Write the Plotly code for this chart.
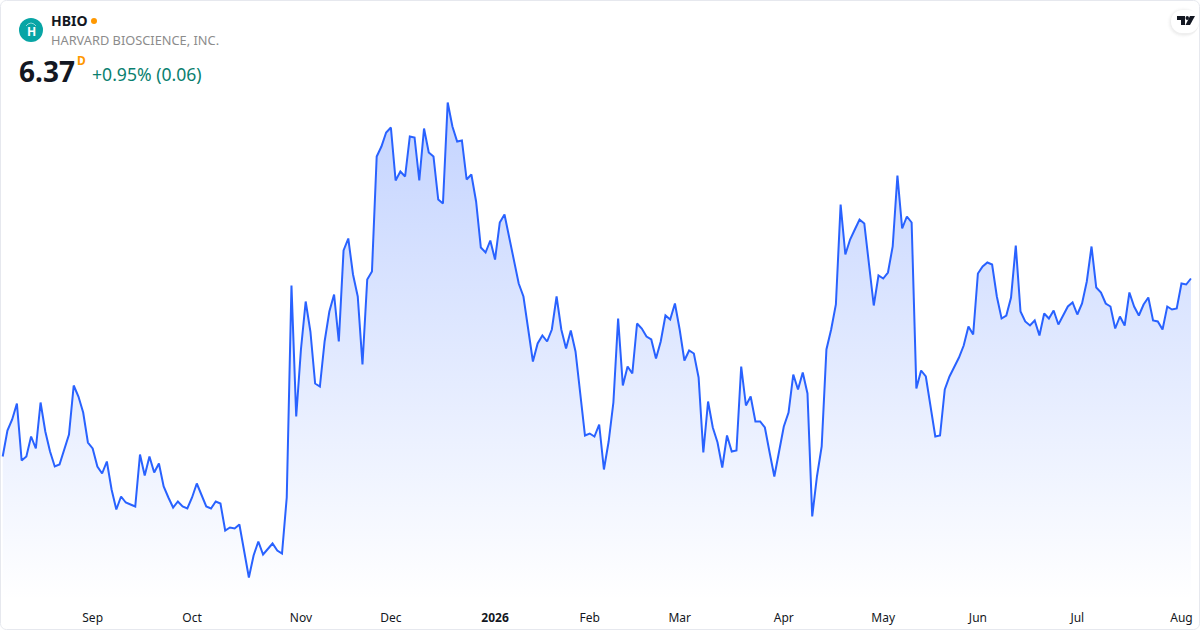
import math
import plotly.graph_objects as go

# Data
closes = [4.59,4.85,4.96,5.12,4.55,4.59,4.79,4.67,5.13,4.84,4.64,4.49,4.51,4.66,4.81,5.30,5.19,5.03,4.73,4.67,
          4.49,4.42,4.54,4.26,4.06,4.19,4.13,4.11,4.09,4.61,4.40,4.59,4.43,4.52,4.29,4.18,4.08,4.14,4.09,4.07,
          4.18,4.32,4.20,4.09,4.07,4.14,4.12,3.85,3.88,3.87,3.91,3.64,3.38,3.60,3.74,3.61,3.67,3.72,3.65,3.62,
          4.18,6.30,4.99,5.66,6.14,5.84,5.32,5.29,5.74,6.04,6.21,5.74,6.65,6.77,6.41,6.19,5.51,6.36,6.44,7.59,
          7.69,7.83,7.88,7.35,7.44,7.39,7.79,7.78,7.35,7.87,7.63,7.59,7.16,7.12,8.13,7.89,7.74,7.75,7.36,7.41,
          7.14,6.68,6.63,6.75,6.56,6.93,7.01,6.78,6.56,6.32,6.19,5.88,5.54,5.72,5.80,5.74,5.86,6.19,5.86,5.67,
          5.85,5.64,5.23,4.80,4.82,4.79,4.91,4.46,4.74,5.13,5.97,5.30,5.49,5.42,5.92,5.87,5.79,5.76,5.57,5.74,
          6.00,5.96,6.12,5.86,5.55,5.65,5.62,5.38,4.63,5.14,4.88,4.73,4.48,4.80,4.64,4.65,5.49,5.10,5.19,4.94,
          4.94,4.88,4.63,4.39,4.64,4.89,5.03,5.41,5.26,5.43,5.22,3.99,4.39,4.69,5.66,5.86,6.11,7.11,6.61,6.76,
          6.86,6.96,6.92,6.49,6.10,6.40,6.37,6.43,6.69,7.40,6.87,6.99,6.93,5.27,5.45,5.39,5.09,4.79,4.80,5.26,
          5.39,5.48,5.58,5.70,5.89,5.81,6.42,6.49,6.53,6.51,6.19,5.97,6.00,6.18,6.70,6.04,5.94,5.90,5.95,5.80,
          6.02,5.97,6.05,5.91,6.00,6.09,6.13,6.01,6.12,6.34,6.69,6.28,6.23,6.12,6.09,5.87,5.99,5.90,6.23,6.09,
          6.00,6.11,6.18,5.95,5.94,5.86,6.09,6.06,6.07,6.32,6.31,6.37]
sessions = list(range(len(closes)))
month_sessions = [19, 40, 63, 82, 104, 124, 143, 165, 186, 206, 227, 249]
month_labels = ['Sep', 'Oct', 'Nov', 'Dec', '<b>2026</b>', 'Feb', 'Mar', 'Apr', 'May', 'Jun', 'Jul', 'Aug']

W, H = 1200, 630
PLOT_BOTTOM = 600
STEP = 4.734   # px per session
FONT = 'Noto Sans'
INK = '#131722'


def px(x, y):
    return f'{x / W:.5f},{1 - y / H:.5f}'


def path(points, close=True):
    cmds = ' '.join(('M' if i == 0 else 'L') + px(*p) for i, p in enumerate(points))
    return cmds + (' Z' if close else '')


def rounded(x0, y0, x1, y1, r, n=6):
    # rounded rect as a polygon
    pts = []
    for cx, cy, start in [(x1 - r, y0 + r, -90), (x1 - r, y1 - r, 0), (x0 + r, y1 - r, 90), (x0 + r, y0 + r, 180)]:
        for k in range(n + 1):
            a = math.radians(start + 90 * k / n)
            pts.append((cx + r * math.cos(a), cy + r * math.sin(a)))
    return path(pts)


def label(x, y, text, size, color, weight=None, anchor='left'):
    # annotations carry about 2px of padding, x is the visible text edge
    fig.add_annotation(x=(x - 2) / W, y=1 - y / H, xref='paper', yref='paper', text=text, showarrow=False,
                       xanchor=anchor, yanchor='middle', align='left',
                       font=dict(family=FONT, size=size, color=color, weight=weight))


fig = go.Figure()
fig.add_trace(go.Scatter(
    x=sessions, y=closes, mode='lines',
    line=dict(color='#2962FF', width=2),
    fill='tozeroy',
    fillgradient=dict(type='vertical', start=3.155, stop=8.14,
                      colorscale=[[0, 'rgba(41,98,255,0.0)'], [1, 'rgba(41,98,255,0.28)']]),
    hoverinfo='x+y',
))

fig.update_layout(
    width=W, height=H,
    margin=dict(l=0, r=0, t=0, b=0),
    paper_bgcolor='white', plot_bgcolor='white',
    showlegend=False,
    xaxis=dict(range=[-2.7 / STEP, (W - 2.7) / STEP], showgrid=False, zeroline=False, showline=False,
               tickmode='array', tickvals=month_sessions, ticktext=month_labels, ticks='',
               tickfont=dict(family=FONT, size=12, color=INK), ticklabelstandoff=9),
    yaxis=dict(range=[3.155, 9.155], domain=[1 - PLOT_BOTTOM / H, 1], visible=False),
)

# card border
fig.add_shape(type='path', xref='paper', yref='paper', path=rounded(0.5, 0.5, W - 0.5, H - 0.5, 6),
              line=dict(color='#E6E8EE', width=1))

# logo
fig.add_shape(type='circle', xref='paper', yref='paper', x0=19 / W, x1=43 / W, y0=1 - 42 / H, y1=1 - 18 / H,
              fillcolor='#08A5A5', line_width=0)
fig.add_shape(type='path', xref='paper', yref='paper', line=dict(color='#8FD8D8', width=1),
              path=path([(26, 26), (28, 24), (31, 23), (34, 24), (36, 26)], close=False))
label(33, 31.5, 'H', 12, 'white', 'bold', 'center')

# header
label(51, 21, 'HBIO', 14, INK, 'bold')
fig.add_shape(type='circle', xref='paper', yref='paper', x0=91 / W, x1=97 / W, y0=1 - 24 / H, y1=1 - 18 / H,
              fillcolor='#FF9800', line_width=0)
label(51, 40, 'HARVARD BIOSCIENCE, INC.', 12.8, '#8C8C8C')
label(19, 71, '6.37', 28, INK, 'bold')
label(77, 61, 'D', 12, '#FF9800', 'bold')
label(92, 74, '+0.95% (0.06)', 17.6, '#0A7F6F')

# TV badge: soft shadow, pill, mark
for grow, alpha in [(4, 0.008), (3, 0.012), (2, 0.018), (1, 0.025)]:
    fig.add_shape(type='path', xref='paper', yref='paper', line_width=0, fillcolor=f'rgba(0,0,0,{alpha})',
                  path=rounded(1171 - grow, 11 - grow, 1199, 34 + grow, 11 + grow))
fig.add_shape(type='path', xref='paper', yref='paper', line_width=0, fillcolor='white',
              path=rounded(1171, 10, 1199, 33, 11))
fig.add_shape(type='path', xref='paper', yref='paper', line_width=0, fillcolor=INK,
              path=path([(1177, 16), (1185, 16), (1185, 25), (1181, 25), (1181, 20), (1177, 20)]))
fig.add_shape(type='path', xref='paper', yref='paper', line_width=0, fillcolor=INK,
              path=path([(1190, 16), (1195, 16), (1190, 25), (1185.5, 25)]))
fig.add_shape(type='circle', xref='paper', yref='paper', line_width=0, fillcolor=INK,
              x0=1185.5 / W, x1=1189 / W, y0=1 - 20 / H, y1=1 - 16 / H)

fig.write_html('out.html', post_script="document.body.style.margin='0'", config=dict(displayModeBar=False))
